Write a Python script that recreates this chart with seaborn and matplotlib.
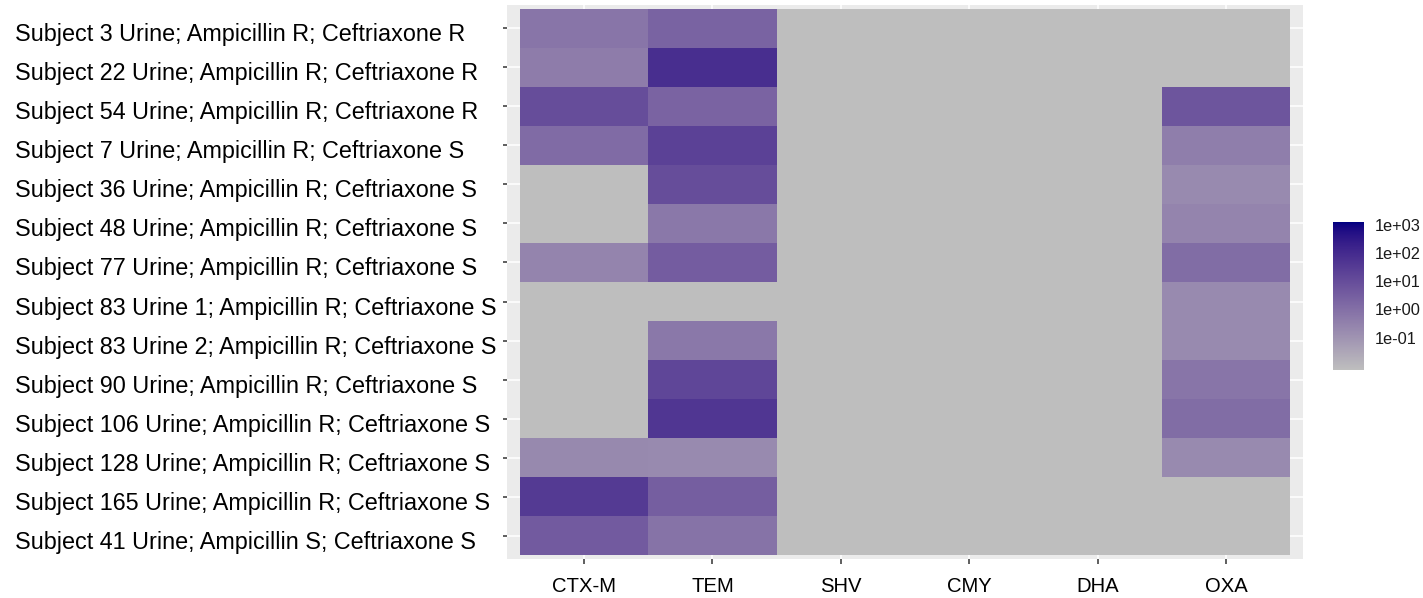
import numpy as np
import matplotlib
matplotlib.use("Agg")
import matplotlib.pyplot as plt
from matplotlib.colors import LinearSegmentedColormap, LogNorm, to_rgb
from matplotlib.transforms import blended_transform_factory, ScaledTranslation
import seaborn as sns
import pandas as pd

# ---- data ---------------------------------------------------------------
samples = [
    "Subject 3 Urine; Ampicillin R; Ceftriaxone R",
    "Subject 22 Urine; Ampicillin R; Ceftriaxone R",
    "Subject 54 Urine; Ampicillin R; Ceftriaxone R",
    "Subject 7 Urine; Ampicillin R; Ceftriaxone S",
    "Subject 36 Urine; Ampicillin R; Ceftriaxone S",
    "Subject 48 Urine; Ampicillin R; Ceftriaxone S",
    "Subject 77 Urine; Ampicillin R; Ceftriaxone S",
    "Subject 83 Urine 1; Ampicillin R; Ceftriaxone S",
    "Subject 83 Urine 2; Ampicillin R; Ceftriaxone S",
    "Subject 90 Urine; Ampicillin R; Ceftriaxone S",
    "Subject 106 Urine; Ampicillin R; Ceftriaxone S",
    "Subject 128 Urine; Ampicillin R; Ceftriaxone S",
    "Subject 165 Urine; Ampicillin R; Ceftriaxone S",
    "Subject 41 Urine; Ampicillin S; Ceftriaxone S",
]
genes = ["CTX-M", "TEM", "SHV", "CMY", "DHA", "OXA"]

# abundance per gene (NaN = not detected)
nd = np.nan
ctx_m = [0.72, 0.45, 10.0, 1.4, nd, nd, 0.26, nd, nd, nd, nd, 0.20, 35.0, 4.0]
tem = [2.3, 81.0, 2.2, 22.0, 10.0, 0.6, 3.5, nd, 0.6, 16.0, 46.0, 0.18, 3.2, 0.8]
shv = [nd] * 14
cmy = [nd] * 14
dha = [nd] * 14
oxa = [nd, nd, 5.6, 0.38, 0.18, 0.26, 1.2, 0.18, 0.18, 0.7, 1.2, 0.18, nd, nd]

scale_min = 0.0071
scale_max = 1260.0
cbar_ticks = [1e-1, 1e0, 1e1, 1e2, 1e3]
cbar_labels = ["1e-01", "1e+00", "1e+01", "1e+02", "1e+03"]

# ---- colour ramp interpolated in CIELAB (grey -> navy) -------------------
def _srgb_to_lin(c):
    c = np.asarray(c, float)
    return np.where(c <= 0.04045, c / 12.92, ((c + 0.055) / 1.055) ** 2.4)

def _lin_to_srgb(c):
    c = np.clip(c, 0, 1)
    return np.where(c <= 0.0031308, 12.92 * c, 1.055 * c ** (1 / 2.4) - 0.055)

_M = np.array([[0.4124, 0.3576, 0.1805],
               [0.2126, 0.7152, 0.0722],
               [0.0193, 0.1192, 0.9505]])
_WHITE = np.array([0.95047, 1.0, 1.08883])

def _f(t):
    d = 6 / 29
    return np.where(t > d ** 3, np.cbrt(t), t / (3 * d * d) + 4 / 29)

def _finv(t):
    d = 6 / 29
    return np.where(t > d, t ** 3, 3 * d * d * (t - 4 / 29))

def rgb_to_lab(rgb):
    xyz = _M @ _srgb_to_lin(rgb) / _WHITE
    fx, fy, fz = _f(xyz)
    return np.array([116 * fy - 16, 500 * (fx - fy), 200 * (fy - fz)])

def lab_to_rgb(lab):
    L, a, b = lab
    fy = (L + 16) / 116
    xyz = np.array([_finv(fy + a / 500), _finv(fy), _finv(fy - b / 200)]) * _WHITE
    return _lin_to_srgb(np.linalg.solve(_M, xyz))

low_col, high_col = "#BEBEBE", "#000080"
lab_lo, lab_hi = rgb_to_lab(to_rgb(low_col)), rgb_to_lab(to_rgb(high_col))
ramp = [lab_to_rgb(lab_lo + (lab_hi - lab_lo) * t) for t in np.linspace(0, 1, 256)]
cmap = LinearSegmentedColormap.from_list("grey_navy", ramp)
cmap.set_bad(low_col)

# ---- figure --------------------------------------------------------------
sns.set_theme(style="white")
plt.rcParams["font.family"] = ["Liberation Sans", "DejaVu Sans"]

W, H = 1423, 598
DPI = 100
PX = 72 / DPI  # points per pixel
fig = plt.figure(figsize=(W / DPI, H / DPI), dpi=DPI)
ax_left, ax_right, ax_top, ax_bot = 507, 1303, 5, 559
ax = fig.add_axes([ax_left / W, 1 - ax_bot / H,
                   (ax_right - ax_left) / W, (ax_bot - ax_top) / H])
cax = fig.add_axes([1333 / W, 1 - 370 / H, (1364 - 1333) / W, (370 - 222) / H])

df = pd.DataFrame({"CTX-M": ctx_m, "TEM": tem, "SHV": shv,
                   "CMY": cmy, "DHA": dha, "OXA": oxa}, index=samples)[genes]

ax.set_facecolor("#EBEBEB")
for i in range(len(samples)):
    ax.axhline(i + 0.5, color="white", lw=1.1, zorder=0)
for j in range(len(genes)):
    ax.axvline(j + 0.5, color="white", lw=1.1, zorder=0)

sns.heatmap(df, ax=ax, cmap=cmap, norm=LogNorm(vmin=scale_min, vmax=scale_max),
            cbar_ax=cax, linewidths=0)

ax.set_xlim(-0.1, len(genes) + 0.1)
ax.set_ylim(len(samples) + 0.1, -0.1)
ax.set_xlabel("")
ax.set_ylabel("")
for s in ax.spines.values():
    s.set_visible(False)

tick_len_px = 4.5
ax.set_yticks(np.arange(len(samples)) + 0.5)
ax.set_yticklabels([])
ax.tick_params(axis="y", length=tick_len_px * PX, width=1.1, color="#333333",
               left=True)

# row labels: left-aligned from the figure's left margin, baseline below the tick
row_trans = blended_transform_factory(fig.transFigure, ax.transData) + \
    ScaledTranslation(0, -13.0 / DPI, fig.dpi_scale_trans)
for i, name in enumerate(samples):
    ax.text(15 / W, i + 0.5, name, transform=row_trans, ha="left",
            va="baseline", fontsize=16.8, color="black", clip_on=False)

ax.set_xticks(np.arange(len(genes)) + 0.5)
ax.set_xticklabels(genes, rotation=0, fontsize=14.6, color="black")
ax.tick_params(axis="x", length=tick_len_px * PX, width=1.1, color="#333333",
               bottom=True, pad=14 * PX)

# colour bar
cax.yaxis.set_ticks(cbar_ticks)
cax.yaxis.set_ticklabels(cbar_labels)
cax.yaxis.set_minor_locator(matplotlib.ticker.NullLocator())
cax.tick_params(axis="y", which="major", direction="in", length=4, width=1,
                color="white", left=True, right=True, labelsize=11.8,
                labelcolor="#1a1a1a", pad=8)
for s in cax.spines.values():
    s.set_visible(False)

fig.savefig("out.png", dpi=DPI, facecolor="white")
